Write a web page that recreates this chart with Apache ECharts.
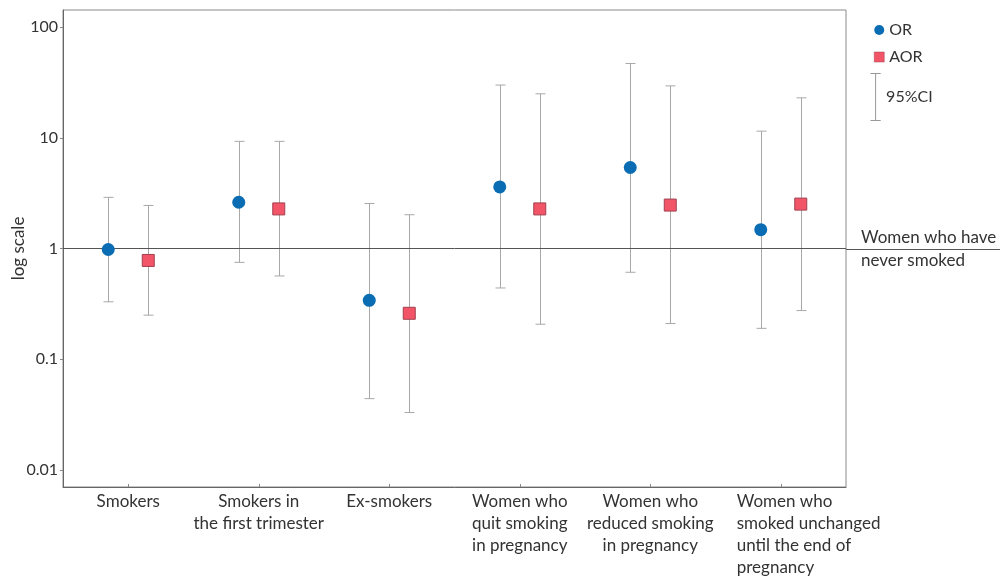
<!DOCTYPE html>
<html>
<head>
<meta charset="utf-8">
<script src="https://cdn.jsdelivr.net/npm/echarts@6/dist/echarts.min.js"></script>
<style>html,body{margin:0;padding:0;background:#fff}#c{width:1000px;height:579px}</style>
</head>
<body>
<div id="c"></div>
<script>
const categories = [
  'Smokers',
  'Smokers in\nthe first trimester',
  'Ex-smokers',
  'Women who\nquit smoking\nin pregnancy',
  'Women who\nreduced smoking\nin pregnancy',
  'Women who\nsmoked unchanged\nuntil the end of\npregnancy'
];
const orValues  = [0.98, 2.62, 0.34, 3.6, 5.4, 1.48];
const orLow     = [0.33, 0.75, 0.044, 0.44, 0.61, 0.19];
const orHigh    = [2.9, 9.3, 2.55, 30, 47, 11.5];
const aorValues = [0.78, 2.28, 0.26, 2.28, 2.47, 2.52];
const aorLow    = [0.25, 0.565, 0.033, 0.207, 0.21, 0.275];
const aorHigh   = [2.45, 9.3, 2.02, 25, 29.5, 23];
const yTicks = [0.01, 0.1, 1, 10, 100];
const referenceValue = 1;
const referenceLabel = 'Women who have\nnever smoked';

const FONT = 'Lato';
const OR_COLOR = '#0a6db3';
const AOR_COLOR = '#f25567';
const CI_COLOR = '#a8a8a8';
const OFF = 20;

function ciItems(low, high) {
  return categories.map((c, i) => [i, low[i], high[i]]);
}
function makeCiRender(offset) {
  return function (params, api) {
    const x = api.value(0);
    const lo = api.coord([x, api.value(1)]);
    const hi = api.coord([x, api.value(2)]);
    const px = Math.round(lo[0] + offset) + 0.5;
    const cap = 5;
    const style = { stroke: CI_COLOR, lineWidth: 1 };
    return {
      type: 'group',
      children: [
        { type: 'line', shape: { x1: px, y1: lo[1], x2: px, y2: hi[1] }, style: style },
        { type: 'line', shape: { x1: px - cap, y1: lo[1], x2: px + cap, y2: lo[1] }, style: style },
        { type: 'line', shape: { x1: px - cap, y1: hi[1], x2: px + cap, y2: hi[1] }, style: style }
      ]
    };
  };
}

const chart = echarts.init(document.getElementById('c'), null, { renderer: 'canvas' });
const option = {
  animation: false,
  textStyle: { fontFamily: FONT },
  grid: { left: 63, right: 154, top: 10, bottom: 92, show: true, borderColor: '#8a8a8a', borderWidth: 1,
          containLabel: false, outerBoundsMode: 'none' },
  legend: [
    {
      orient: 'vertical', left: 874, top: 21, padding: 0, itemWidth: 10, itemHeight: 10, itemGap: 9,
      textStyle: { fontFamily: FONT, fontSize: 16, color: '#333', lineHeight: 18 },
      data: [
        { name: 'OR', icon: 'circle' },
        { name: 'AOR', icon: 'rect', itemStyle: { borderColor: '#a04050', borderWidth: 0.5 } }
      ]
    },
    {
      orient: 'vertical', left: 868, top: 71, padding: 0, itemWidth: 11, itemHeight: 47, itemGap: 3,
      textStyle: { fontFamily: FONT, fontSize: 16, color: '#333' },
      data: [
        { name: '95%CI', icon: 'path://M0,0L10,0M5,0L5,46M0,46L10,46',
          itemStyle: { color: 'none', borderColor: '#999', borderWidth: 1 } }
      ]
    }
  ],
  xAxis: {
    type: 'category',
    data: categories,
    boundaryGap: true,
    axisLine: { lineStyle: { color: '#666', width: 1 } },
    axisTick: { show: true, alignWithLabel: true, length: 3, inside: true, lineStyle: { color: '#888' } },
    axisLabel: {
      interval: 0, margin: 4, color: '#333', fontSize: 17, lineHeight: 22, fontFamily: FONT,
      formatter: function (v, i) {
        if (i === categories.length - 1) return '{l|' + v.split('\n').join('}\n{l|') + '}';
        return v;
      },
      rich: { l: { width: 88, align: 'left', fontSize: 17, lineHeight: 22, fontFamily: FONT, color: '#333' } }
    },
    splitLine: { show: false }
  },
  yAxis: {
    type: 'log',
    logBase: 10,
    min: 0.00700,
    max: 143,
    name: 'log scale',
    nameLocation: 'middle',
    nameGap: 36,
    nameMoveOverlap: false,
    nameTextStyle: { fontFamily: FONT, fontSize: 17, color: '#333' },
    axisLine: { show: true, lineStyle: { color: '#666', width: 1 } },
    axisTick: { show: true, length: 3, lineStyle: { color: '#888' } },
    splitLine: { show: false },
    axisLabel: {
      showMinLabel: false, showMaxLabel: false,
      color: '#333', fontSize: 16, fontFamily: FONT, margin: 5,
      formatter: function (v) {
        const m = yTicks.find(t => Math.abs(Math.log10(v) - Math.log10(t)) < 1e-6);
        return m === undefined ? '' : String(m);
      }
    }
  },
  series: [
    {
      name: '95%CI', type: 'custom', z: 1,
      itemStyle: { color: '#999' },
      renderItem: makeCiRender(-OFF),
      encode: { x: 0, y: [1, 2] },
      data: ciItems(orLow, orHigh)
    },
    {
      name: '95%CI', type: 'custom', z: 1,
      itemStyle: { color: '#999' },
      renderItem: makeCiRender(OFF),
      encode: { x: 0, y: [1, 2] },
      data: ciItems(aorLow, aorHigh)
    },
    {
      name: 'OR', type: 'scatter', z: 5,
      symbol: 'circle', symbolSize: 13, symbolOffset: [-OFF, 0],
      itemStyle: { color: OR_COLOR, opacity: 1 },
      data: orValues,
      markLine: {
        silent: true, symbol: 'none', z: 2,
        lineStyle: { color: '#555', width: 1, type: 'solid' },
        label: { show: true, position: 'end', distance: 15, formatter: referenceLabel,
                 fontFamily: FONT, fontSize: 17, lineHeight: 23, color: '#333', align: 'left' },
        emphasis: { disabled: true },
        data: [{ yAxis: referenceValue }]
      }
    },
    {
      name: 'AOR', type: 'scatter', z: 5,
      symbol: 'rect', symbolSize: 12, symbolOffset: [OFF, 0],
      itemStyle: { color: AOR_COLOR, borderColor: '#a04050', borderWidth: 1, opacity: 1 },
      data: aorValues
    }
  ]
};
chart.setOption(option);
const yPix = chart.convertToPixel({ yAxisIndex: 0 }, referenceValue);
const xRight = 1000 - 154;
chart.setOption({
  graphic: [{
    type: 'line', silent: true, z: 2,
    shape: { x1: xRight, y1: Math.round(yPix) + 0.5, x2: 1000, y2: Math.round(yPix) + 0.5 },
    style: { stroke: '#555', lineWidth: 1 }
  }]
});
</script>
</body>
</html>
